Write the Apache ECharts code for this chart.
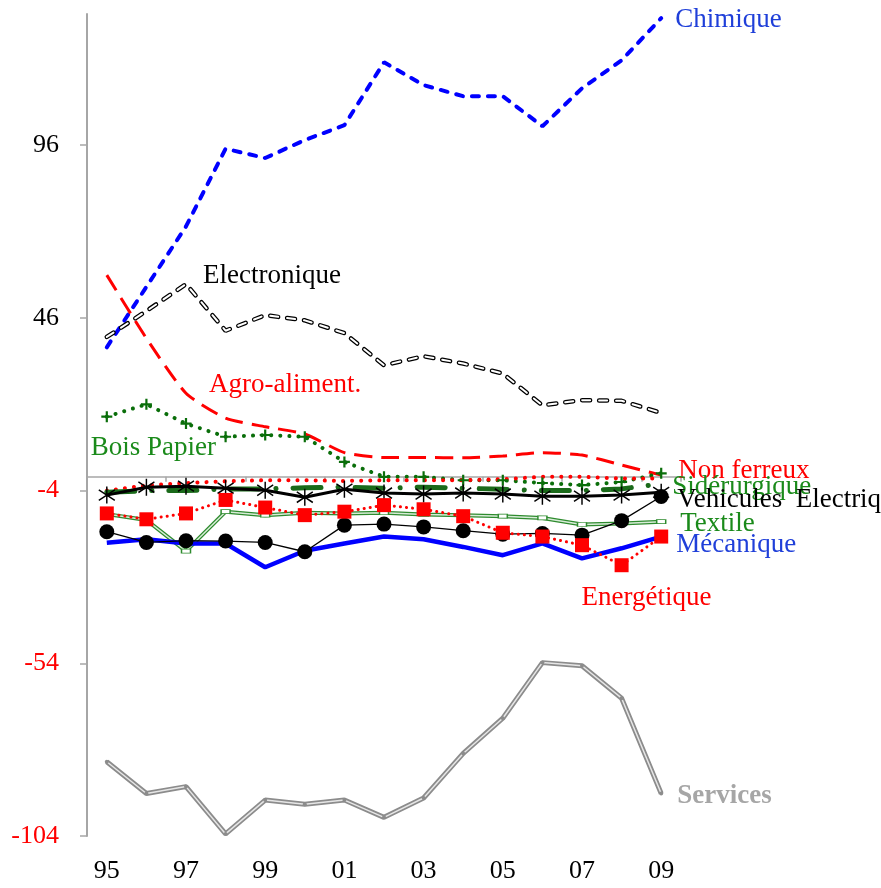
<!DOCTYPE html>
<html>
<head>
<meta charset="utf-8">
<script src="https://cdn.jsdelivr.net/npm/echarts@6/dist/echarts.min.js"></script>
<style>
  html, body { margin: 0; padding: 0; background: #fff; }
  #chart { width: 881px; height: 888px; }
</style>
</head>
<body>
<div id="chart"></div>
<script>
// years 1995..2009, labelled two digits
var years = ['95', '96', '97', '98', '99', '00', '01', '02', '03', '04', '05', '06', '07', '08', '09'];

var chimique     = [37.5, 55, 72.5, 95, 92.3, 97.5, 101.8, 120, 113.4, 110.2, 110.2, 101.5, 112.5, 120.6, 132.8];
var electronique = [40.5, 48, 55.8, 42.3, 46.8, 45.3, 41.6, 32.3, 34.9, 32.8, 29.9, 20.7, 22.2, 22.0, 18.5];
var agro         = [58.4, 40.1, 24.2, 17.0, 14.5, 12.4, 7.0, 5.6, 5.6, 5.5, 6.0, 7.0, 6.3, 3.4, 0.5];
var boisPapier   = [17.4, 21.0, 15.4, 11.6, 12.1, 11.6, 4.3, 0, 0, -1, -1, -1.8, -2.4, -1.5, 1];
var nonFerreux   = [-4, -2.5, -1.8, -1.3, -1, -1, -1.2, -1, -1, -1, -0.7, 0, 0, -0.5, -0.5];
var siderurgique = [-4.5, -4, -4, -3.5, -3.5, -3.2, -3, -3.3, -3, -3.3, -3.6, -4, -4, -3.5, -2];
var vehicules    = [-5.3, -3, -2.7, -3.3, -3.9, -5.9, -3.6, -4.7, -5.0, -4.7, -5.0, -5.6, -5.6, -5.3, -4.5];
var textile      = [-10.8, -12.5, -21.5, -10.1, -11.1, -10.4, -10.6, -10.4, -10.9, -11.1, -11.4, -11.9, -13.8, -13.5, -13.0];
var electrique   = [-15.9, -19.0, -18.5, -18.6, -19.0, -21.7, -14.0, -13.7, -14.5, -15.6, -16.6, -16.4, -16.9, -12.7, -5.7];
var mecanique    = [-19.1, -18.1, -19.3, -19.3, -26.2, -21.4, -19.3, -17.3, -18.1, -20.3, -22.7, -19.3, -23.6, -20.7, -17.3];
var energetique  = [-10.6, -12.3, -10.6, -6.7, -8.9, -11.1, -10.1, -8.2, -9.4, -11.4, -16.2, -17.3, -19.8, -25.6, -17.3];
var services     = [-82.5, -91.7, -89.7, -103.4, -93.6, -94.8, -93.6, -98.6, -93.0, -80.1, -69.9, -53.8, -54.7, -64.1, -91.7];

var yTicks = { min: -104, max: 134, step: 50 };

var FONT = '"Liberation Serif", "Times New Roman", serif';

// etiquette texte accrochee a un point de la serie
function tag(data, idx, text, color, dx, dy, bold) {
    return {
        symbol: 'circle',
        symbolSize: 0,
        silent: true,
        animation: false,
        data: [{ coord: [years[idx], data[idx]] }],
        label: {
            show: true,
            position: 'inside',
            align: 'left',
            verticalAlign: 'middle',
            offset: [dx, dy],
            formatter: text,
            color: color,
            fontFamily: FONT,
            fontSize: 27,
            fontWeight: bold ? 'bold' : 'normal'
        }
    };
}

function line(name, data, ls, extra) {
    var s = {
        name: name,
        type: 'line',
        data: data,
        showSymbol: false,
        symbol: 'none',
        lineStyle: ls,
        emphasis: { disabled: true },
        silent: true
    };
    if (extra) for (var k in extra) s[k] = extra[k];
    return s;
}

var chart = echarts.init(document.getElementById('chart'));

var series = [
    // Services : double trait gris
    line('Services', services, { color: '#8c8c8c', width: 5 }, {
        markPoint: tag(services, 14, 'Services', '#a6a6a6', 16, 3, true)
    }),
    line('Services-in', services, { color: '#e6e6e6', width: 1.5 }, {
        showSymbol: true, symbol: 'circle', symbolSize: 4,
        itemStyle: { color: '#8c8c8c' }
    }),
    // Chimique
    line('Chimique', chimique, { color: '#0000ff', width: 4, type: [7, 9], cap: 'round' }, {
        markPoint: tag(chimique, 14, 'Chimique', '#1f3fd9', 14, 1.5)
    }),
    // Electronique : tirets creux
    line('Electronique', electronique, { color: '#000', width: 4.5, type: [8, 9], cap: 'round' }, {
        markPoint: tag(electronique, 2, 'Electronique', '#000', 17, -8)
    }),
    line('Electronique-in', electronique, { color: '#fff', width: 2, type: [8, 9], cap: 'round' }),
    // Agro-aliment.
    line('Agro-aliment.', agro, { color: '#ff0000', width: 3, type: [18, 9] }, {
        smooth: 0.2,
        markPoint: tag(agro, 2, 'Agro-aliment.', '#ff0000', 23, -8.5)
    }),
    // Bois Papier
    line('Bois Papier', boisPapier, { color: '#0a6e0a', width: 4, type: [0.1, 9], cap: 'round' }, {
        showSymbol: true,
        symbol: 'path://M4,0H6V4H10V6H6V10H4V6H0V4H4Z',
        symbolSize: 11,
        itemStyle: { color: '#0a6e0a' },
        markPoint: tag(boisPapier, 0, 'Bois Papier', '#1a8a1a', -16, 31)
    }),
    // Non ferreux
    line('Non ferreux', nonFerreux, { color: '#ff0000', width: 4, type: [0.1, 9], cap: 'round' }, {
        markPoint: tag(nonFerreux, 14, 'Non ferreux', '#ff0000', 17, -8)
    }),
    // Siderurgique : trait-point
    line('Sidérurgique', siderurgique, { color: '#1a6a1a', width: 5, type: [28, 17, 0.1, 17], cap: 'round' }, {
        markPoint: tag(siderurgique, 14, 'Sidérurgique', '#1a8a1a', 11, 3)
    }),
    // Vehicules : asterisques
    line('Vehicules', vehicules, { color: '#000', width: 3 }, {
        showSymbol: true,
        symbol: 'path://M8,0V16M0,3L16,13M0,13L16,3',
        symbolSize: [16, 17],
        itemStyle: { color: 'transparent', borderColor: '#000', borderWidth: 1.5 },
        markPoint: tag(vehicules, 14, 'Vehicules  Electriques', '#000', 16, 8)
    }),
    // Textile : double trait vert
    line('Textile', textile, { color: '#2e8b2e', width: 4 }, {
        markPoint: tag(textile, 14, 'Textile', '#1a8a1a', 19, 2)
    }),
    line('Textile-in', textile, { color: '#d8ecd8', width: 1.5 }, {
        showSymbol: true, symbol: 'rect', symbolSize: [9, 4],
        itemStyle: { color: '#fff', borderColor: '#2e8b2e', borderWidth: 1 }
    }),
    // Mecanique
    line('Mécanique', mecanique, { color: '#0000ff', width: 4.5 }, {
        markPoint: tag(mecanique, 14, 'Mécanique', '#1f3fd9', 15, 8)
    }),
    // ronds noirs
    line('Electrique', electrique, { color: '#000', width: 1.3 }, {
        showSymbol: true, symbol: 'circle', symbolSize: 15,
        itemStyle: { color: '#000' }
    }),
    // Energetique : carres rouges
    line('Energétique', energetique, { color: '#ff0000', width: 3, type: [0.1, 6], cap: 'round' }, {
        showSymbol: true, symbol: 'rect', symbolSize: 14,
        itemStyle: { color: '#ff0000' },
        markPoint: tag(energetique, 13, 'Energétique', '#ff0000', -40, 33)
    })
];

var option = {
    animation: false,
    backgroundColor: '#fff',
    grid: { left: 87, right: 200, top: 14, bottom: 52 },
    xAxis: [{
        type: 'category',
        data: years,
        boundaryGap: true,
        position: 'bottom',
        axisLine: { show: false, onZero: false },
        axisTick: { show: false },
        axisLabel: { interval: 1, margin: 22, color: '#000', fontFamily: FONT, fontSize: 26 },
        splitLine: { show: false }
    }, {
        type: 'category',
        data: years,
        boundaryGap: true,
        position: 'bottom',
        axisLine: { show: true, onZero: true, lineStyle: { color: '#a6a6a6', width: 1.5 } },
        axisTick: { show: true, interval: 1, length: 5, lineStyle: { color: '#a6a6a6', width: 1.5 } },
        axisLabel: { show: false },
        splitLine: { show: false }
    }],
    yAxis: {
        type: 'value',
        min: yTicks.min,
        max: yTicks.max,
        interval: yTicks.step,
        axisLine: { show: true, lineStyle: { color: '#a6a6a6', width: 2 } },
        axisTick: { show: true, length: 7, lineStyle: { color: '#a6a6a6', width: 1.5 } },
        splitLine: { show: false },
        axisLabel: {
            showMaxLabel: false,
            margin: 28,
            fontFamily: FONT,
            fontSize: 26,
            color: function (v) { return v < 0 ? '#ff0000' : '#000'; }
        }
    },
    series: series
};

chart.setOption(option);
</script>
</body>
</html>
